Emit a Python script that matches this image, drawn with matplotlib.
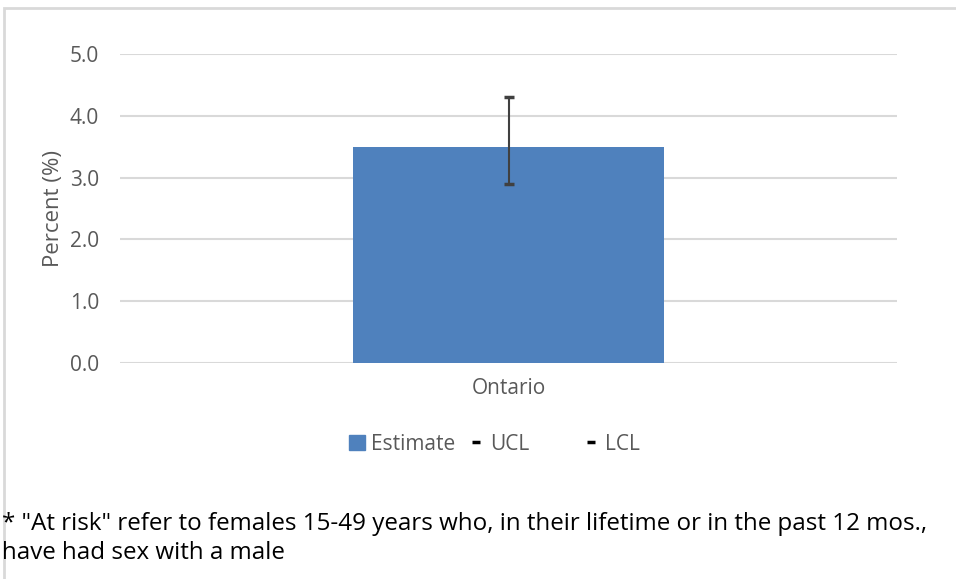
import matplotlib.pyplot as plt
from matplotlib.patches import Rectangle, Patch
from matplotlib.lines import Line2D

# data
categories = ["Ontario"]
estimate = [3.5]
ucl = [4.3]
lcl = [2.9]
yticks = [0.0, 1.0, 2.0, 3.0, 4.0, 5.0]

plt.rcParams['font.family'] = ['Open Sans', 'DejaVu Sans']
grey = '#595959'
blue = '#4f81bd'

fig = plt.figure(figsize=(9.56, 5.79), dpi=100)

# outer chart frame (cut off at right/bottom like the source)
fig.patches.append(Rectangle((4 / 956, -0.1), 1.2, (579 - 8) / 579 + 0.1,
                             transform=fig.transFigure, fill=False,
                             edgecolor='#d9d9d9', linewidth=2))

ax = fig.add_axes([120 / 956, 1 - 363 / 579, (897 - 120) / 956, (363 - 54) / 579])
x = list(range(len(categories)))
ax.bar(x, estimate, width=0.4, color=blue, zorder=2)
lower = [e - l for e, l in zip(estimate, lcl)]
upper = [u - e for e, u in zip(estimate, ucl)]
eb = ax.errorbar(x, estimate, yerr=[lower, upper], fmt='none', ecolor='#404040',
                 elinewidth=1.5, capsize=3.5, capthick=2.5, zorder=3)
for cap in eb[1]:
    cap.set_color('black')

ax.set_xlim(-0.5, 0.5)
ax.set_ylim(0, 5)
ax.set_yticks(yticks)
ax.set_yticklabels([f"{v:.1f}" for v in yticks])
ax.set_xticks(x)
ax.set_xticklabels(categories)
ax.grid(axis='y', color='#d9d9d9', linewidth=1.5, zorder=0)
for s in ax.spines.values():
    s.set_visible(False)
ax.tick_params(length=0, colors=grey, labelsize=15)
ax.tick_params(axis='x', pad=11)
ax.tick_params(axis='y', pad=15)
ax.set_ylabel("Percent (%)", color=grey, fontsize=16, labelpad=4)

# legend entries placed one by one (spacing in the source is uneven)
leg_items = [
    (Patch(color=blue), "Estimate", 349),
    (Line2D([], [], color='black', marker='_', linestyle='none', markersize=6, markeredgewidth=2.5), "UCL", 468),
    (Line2D([], [], color='black', marker='_', linestyle='none', markersize=6, markeredgewidth=2.5), "LCL", 583),
]
for h, lab, px in leg_items:
    leg = fig.legend([h], [lab], loc='center left', bbox_to_anchor=(px / 956, 1 - 444 / 579),
                     frameon=False, fontsize=15, handlelength=0.75, handletextpad=0.3,
                     borderpad=0, borderaxespad=0)
    for t in leg.get_texts():
        t.set_color(grey)

fig.text(2 / 956, 1 - 524 / 579, '* "At risk" refer to females 15-49 years who, in their lifetime or in the past 12 mos.,',
         fontsize=17.4, va='center', ha='left', color='black')
fig.text(2 / 956, 1 - 553 / 579, 'have had sex with a male',
         fontsize=17.4, va='center', ha='left', color='black')

fig.savefig("out.png", dpi=100)
